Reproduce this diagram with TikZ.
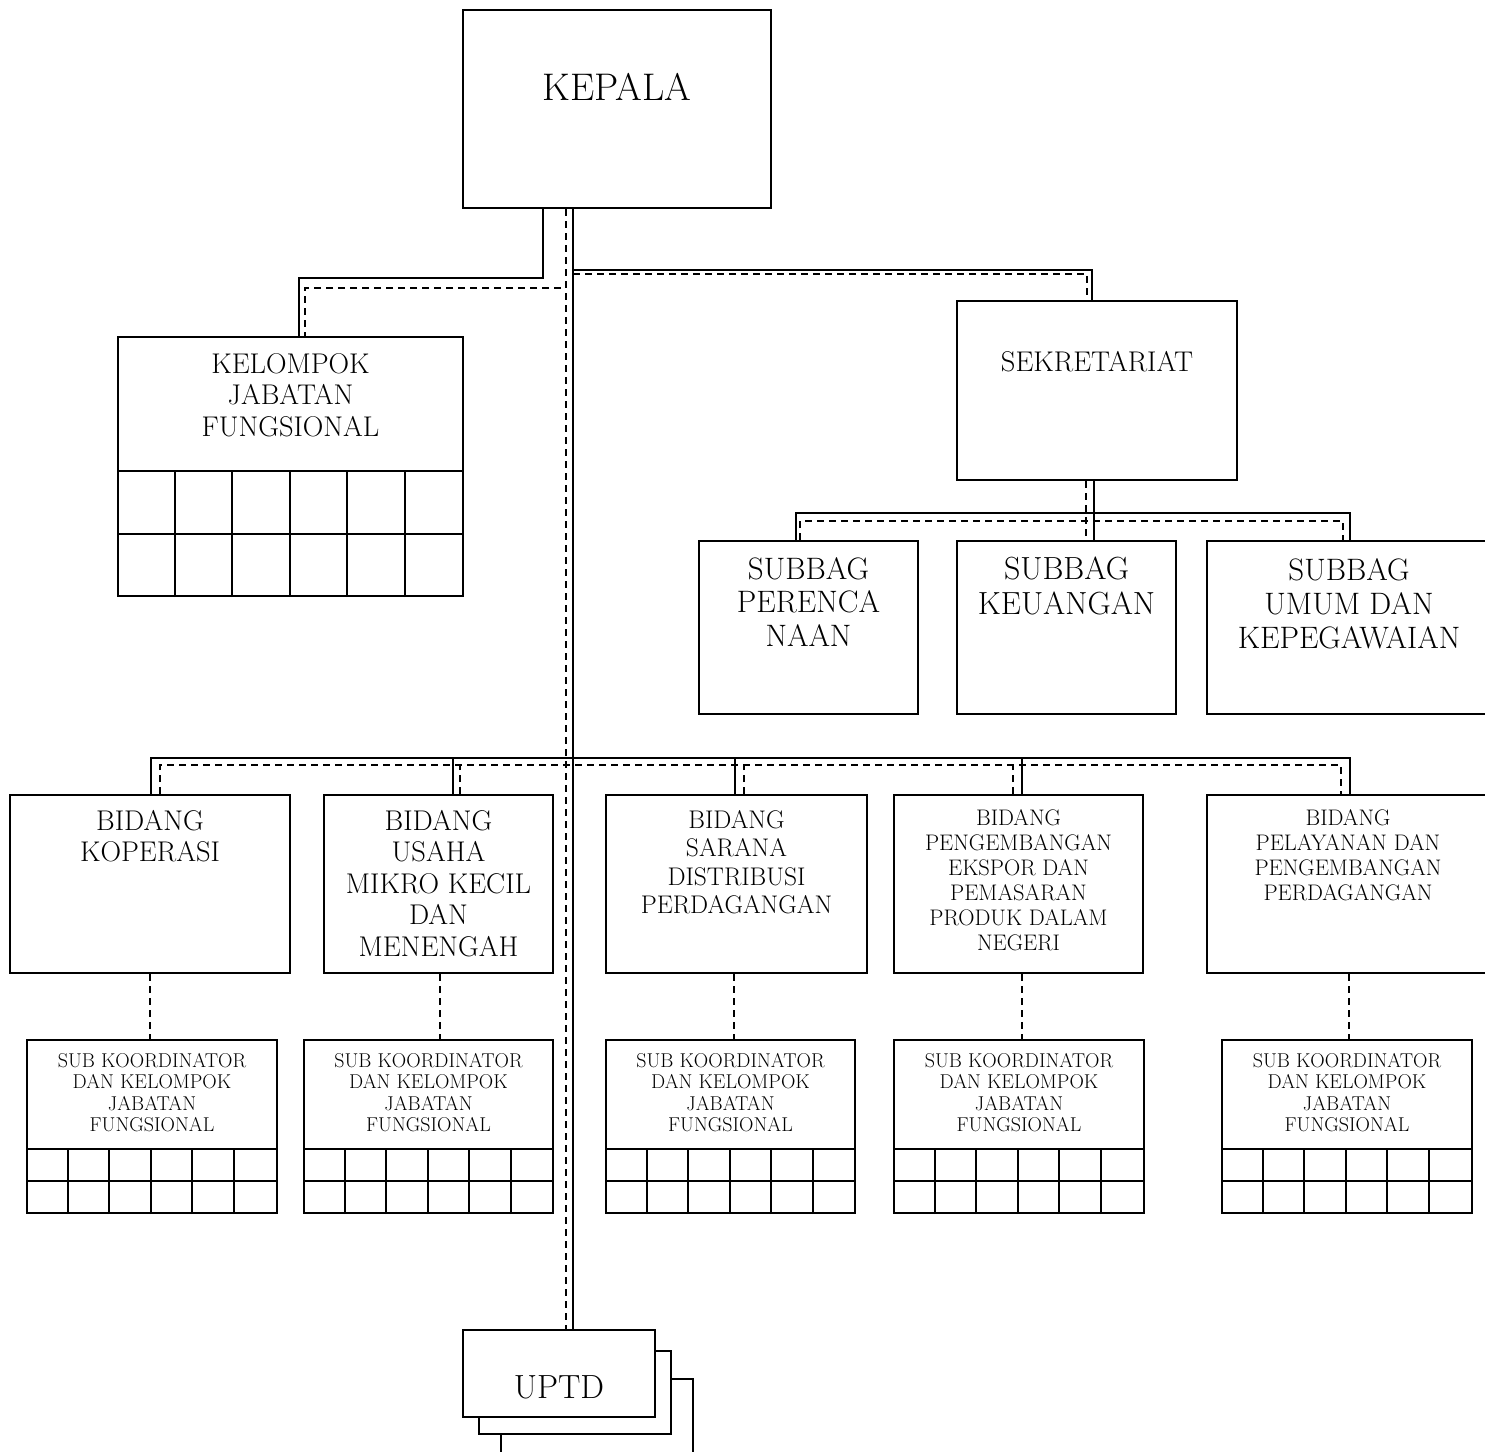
\documentclass[tikz,border=0pt]{standalone}
\usetikzlibrary{positioning}
\tikzset{
    box/.style={draw, line width=2pt, fill=white, inner sep=0pt},
    lbl/.style={inner sep=0pt, align=center},
    link/.style={line width=2pt},
    dashedlink/.style={line width=2pt, dash pattern=on 7pt off 5pt},
    big/.style={font=\fontsize{28.5pt}{31.5pt}\selectfont},
    mid/.style={font=\fontsize{25.5pt}{28.5pt}\selectfont},
    small/.style={font=\fontsize{22.5pt}{25pt}\selectfont},
    tiny/.style={font=\fontsize{20pt}{21.5pt}\selectfont}
}
\begin{document}
\begin{tikzpicture}[x=1pt, y=-1pt]
    \useasboundingbox (0,0) rectangle (1485,1451);

    % kepala and the units right below it
    \node [box, minimum width=308pt, minimum height=198pt] (kepala) at (617,109) {};
    \node [lbl, font=\fontsize{38.5pt}{42pt}\selectfont, below=64pt of kepala.north] {KEPALA};

    \node [box, minimum width=345pt, minimum height=259pt] (jabfung) at (290.5,466.5) {};
    \node [lbl, big, below=17pt of jabfung.north] {KELOMPOK\\JABATAN\\FUNGSIONAL};
    \draw [link] ([yshift=126pt]jabfung.south west) -- ([yshift=126pt]jabfung.south east);
    \draw [link] ([yshift=63pt]jabfung.south west) -- ([yshift=63pt]jabfung.south east);
    \foreach \i in {1,...,5}
        \draw [link] ([xshift=\i*57.5pt]jabfung.south west) -- ++(0,-126);

    \node [box, minimum width=280pt, minimum height=179pt] (sekre) at (1097,390.5) {};
    \node [lbl, big, below=51pt of sekre.north] {SEKRETARIAT};

    % subbag
    \node [box, minimum width=219pt, minimum height=173pt] (perencanaan) at (808.5,627.5) {};
    \node [box, minimum width=219pt, minimum height=173pt] (keuangan) at (1066.5,627.5) {};
    \node [box, minimum width=288pt, minimum height=173pt] (umum) at (1351,627.5) {};
    \node [lbl, font=\fontsize{31pt}{33.5pt}\selectfont, below=17pt of perencanaan.north] {SUBBAG\\PERENCA\\NAAN};
    \node [lbl, font=\fontsize{32pt}{35pt}\selectfont, below=17pt of keuangan.north] {SUBBAG\\KEUANGAN};
    \node [lbl, font=\fontsize{31pt}{34pt}\selectfont, below=18pt of umum.north, xshift=-2pt] {SUBBAG\\UMUM DAN\\KEPEGAWAIAN};

    % bidang
    \node [box, minimum width=280pt, minimum height=178pt] (koperasi) at (150,884) {};
    \node [box, minimum width=229pt, minimum height=178pt] (umkm) at (438.5,884) {};
    \node [box, minimum width=261pt, minimum height=178pt] (sarana) at (736.5,884) {};
    \node [box, minimum width=249pt, minimum height=178pt] (ekspor) at (1018.5,884) {};
    \node [box, minimum width=288pt, minimum height=178pt] (pelayanan) at (1351,884) {};
    \node [lbl, big, below=16pt of koperasi.north] {BIDANG\\KOPERASI};
    \node [lbl, big, below=16pt of umkm.north] {BIDANG\\USAHA\\MIKRO KECIL\\DAN\\MENENGAH};
    \node [lbl, mid, below=16pt of sarana.north] {BIDANG\\SARANA\\DISTRIBUSI\\PERDAGANGAN};
    \node [lbl, small, below=15pt of ekspor.north] {BIDANG\\PENGEMBANGAN\\EKSPOR DAN\\PEMASARAN\\PRODUK DALAM\\NEGERI};
    \node [lbl, small, below=15pt of pelayanan.north, xshift=-3pt] {BIDANG\\PELAYANAN DAN\\PENGEMBANGAN\\PERDAGANGAN};

    % sub koordinator
    \node [box, minimum width=250pt, minimum height=173pt] (skkop) at (152,1126.5) {};
    \node [box, minimum width=249pt, minimum height=173pt] (skumkm) at (428.5,1126.5) {};
    \node [box, minimum width=249pt, minimum height=173pt] (sksarana) at (730.5,1126.5) {};
    \node [box, minimum width=250pt, minimum height=173pt] (skekspor) at (1019,1126.5) {};
    \node [box, minimum width=250pt, minimum height=173pt] (skpelayanan) at (1347,1126.5) {};
    \foreach \s in {skkop,skumkm,sksarana,skekspor,skpelayanan} {
        \node [lbl, tiny, below=14pt of \s.north] {SUB KOORDINATOR\\DAN KELOMPOK\\JABATAN\\FUNGSIONAL};
        \draw [link] ([yshift=65pt]\s.south west) -- ([yshift=65pt]\s.south east);
        \draw [link] ([yshift=33pt]\s.south west) -- ([yshift=33pt]\s.south east);
        \foreach \i in {1,...,5}
            \draw [link] ([xshift=\i*41.5pt]\s.south west) -- ++(0,-65);
    }

    % uptd
    \node [box, minimum width=192pt, minimum height=83pt] (uptdc) at (597,1420.5) {};
    \node [box, minimum width=192pt, minimum height=83pt] (uptdb) at (575,1392.5) {};
    \node [box, minimum width=192pt, minimum height=87pt] (uptd) at (559,1373.5) {};
    \node [lbl, font=\fontsize{33.5pt}{36pt}\selectfont, below=46pt of uptd.north] {UPTD};

    % connectors from kepala
    \draw [link] ([xshift=-44pt]kepala.south) -- ([xshift=14pt]uptd.north);
    \draw [dashedlink] ([xshift=-51pt]kepala.south) -- ([xshift=7pt]uptd.north);
    \draw [link] ([xshift=-74pt]kepala.south) -- ++(0,69) -| ([xshift=8.5pt]jabfung.north);
    \draw [dashedlink] ([xshift=-51pt]kepala.south) -- ++(0,79) -| ([xshift=14.5pt]jabfung.north);
    \draw [link] ([xshift=-44pt]kepala.south) -- ++(0,61) -| ([xshift=-5pt]sekre.north);
    \draw [dashedlink] ([xshift=-44pt]kepala.south) ++(0,65) -| ([xshift=-10pt]sekre.north);

    % sekretariat to subbag
    \draw [link] ([xshift=-3pt]sekre.south) -- ([xshift=27.5pt]keuangan.north);
    \draw [dashedlink] ([xshift=-11pt]sekre.south) -- ([xshift=19.5pt]keuangan.north);
    \draw [link] ([xshift=-12.5pt]perencanaan.north) -- ++(0,-27) -| ([xshift=-1pt]umum.north);
    \draw [dashedlink] ([xshift=-8.5pt]perencanaan.north) -- ++(0,-19) -| ([xshift=-8pt]umum.north);

    % bidang line
    \draw [link] ([xshift=1pt]koperasi.north) -- ++(0,-36) -| ([xshift=-1pt]pelayanan.north);
    \draw [link] ([xshift=14.5pt]umkm.north) -- ++(0,-36);
    \draw [link] ([xshift=-1.5pt]sarana.north) -- ++(0,-36);
    \draw [link] ([xshift=3.5pt]ekspor.north) -- ++(0,-36);
    \draw [dashedlink] ([xshift=10pt]koperasi.north) -- ++(0,-29) -| ([xshift=-10pt]pelayanan.north);
    \draw [dashedlink] ([xshift=21.5pt]umkm.north) -- ++(0,-29);
    \draw [dashedlink] ([xshift=7.5pt]sarana.north) -- ++(0,-29);
    \draw [dashedlink] ([xshift=-6pt]ekspor.north) -- ++(0,-29);

    % bidang to sub koordinator
    \draw [dashedlink] (koperasi.south) -- (koperasi.south |- skkop.north);
    \draw [dashedlink] ([xshift=1.5pt]umkm.south) -- ([xshift=1.5pt]umkm.south |- skumkm.north);
    \draw [dashedlink] ([xshift=-2.5pt]sarana.south) -- ([xshift=-2.5pt]sarana.south |- sksarana.north);
    \draw [dashedlink] ([xshift=3.5pt]ekspor.south) -- ([xshift=3.5pt]ekspor.south |- skekspor.north);
    \draw [dashedlink] ([xshift=-2pt]pelayanan.south) -- ([xshift=-2pt]pelayanan.south |- skpelayanan.north);
\end{tikzpicture}
\end{document}
